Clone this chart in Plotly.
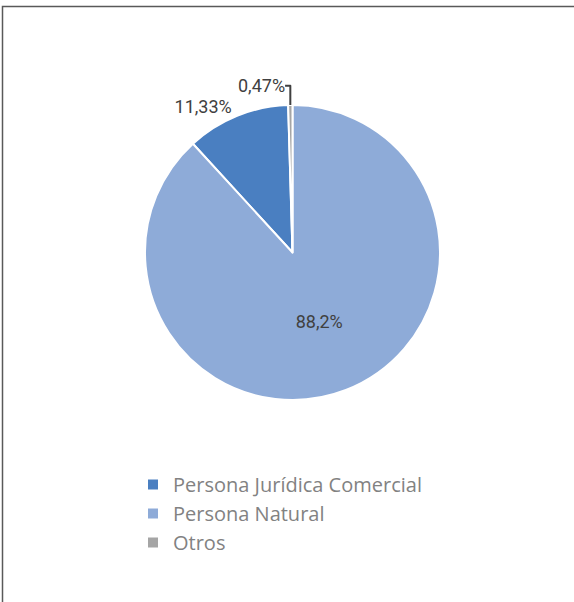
import plotly.graph_objects as go

labels = ["Persona Jurídica Comercial", "Persona Natural", "Otros"]
values = [11.33, 88.2, 0.47]
colors = ["#4A7FC1", "#8EABD8", "#A5A5A5"]
text_pos = ["outside", "inside", "outside"]

label_text = [f"{v:g}".replace(".", ",") + "%" for v in values]

W, H = 574, 602
cx, cy, r = 292.5, 252.5, 147.5

total = sum(values)
# first slice (drawn counterclockwise) must end just left of 12 o'clock
rotation = -(values[0] + values[2]) / total * 360

fig = go.Figure(
    go.Pie(
        labels=labels,
        values=values,
        text=label_text,
        textinfo="text",
        textposition=text_pos,
        insidetextorientation="horizontal",
        sort=False,
        direction="counterclockwise",
        rotation=rotation,
        marker=dict(colors=colors, line=dict(color="white", width=2)),
        textfont=dict(family="Roboto", size=18, color="#404040"),
        domain=dict(x=[(cx - r) / W, (cx + r) / W], y=[1 - (cy + r) / H, 1 - (cy - r) / H]),
        hoverinfo="label+percent",
    )
)

fig.update_layout(
    width=W,
    height=H,
    margin=dict(l=0, r=0, t=0, b=0),
    paper_bgcolor="white",
    plot_bgcolor="white",
    showlegend=True,
    legend=dict(
        x=133 / W,
        y=1 - 465 / H,
        xanchor="left",
        yanchor="top",
        font=dict(family="Open Sans", size=20, color="#828282"),
        bgcolor="rgba(0,0,0,0)",
    ),
    shapes=[
        dict(
            type="rect",
            xref="paper",
            yref="paper",
            x0=2.5 / W,
            x1=1.2,
            y0=-0.2,
            y1=1 - 6.5 / H,
            line=dict(color="#595959", width=1.5),
            fillcolor="rgba(0,0,0,0)",
            layer="below",
        )
    ],
)

fig.write_html("out.html")
